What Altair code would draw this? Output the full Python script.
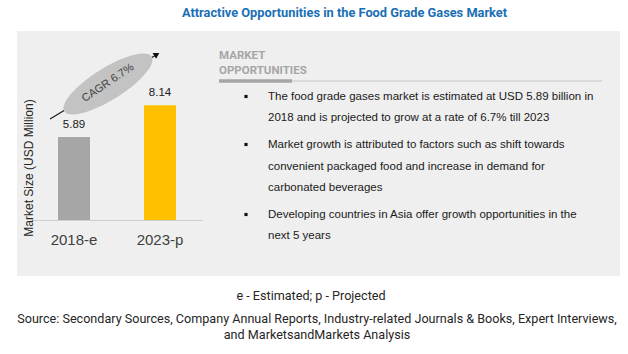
import altair as alt
import pandas as pd

# ---- data ----
categories = ["2018-e", "2023-p"]
values = [5.89, 8.14]
bar_colors = ["#a6a6a6", "#ffc000"]
cagr_label = "CAGR 6.7%"
y_title = "Market Size (USD Million)"
title_text = "Attractive Opportunities in the Food Grade Gases Market"
heading_lines = ["MARKET", "OPPORTUNITIES"]
bullets = [
    ["The food grade gases market is estimated at USD 5.89 billion in",
     "2018 and is projected to grow at a rate of 6.7% till 2023"],
    ["Market growth is attributed to factors such as shift towards",
     "convenient packaged food and increase in demand for",
     "carbonated beverages"],
    ["Developing countries in Asia offer growth opportunities in the",
     "next 5 years"],
]
footnote = "e - Estimated; p - Projected"
source_lines = [
    "Source: Secondary Sources, Company Annual Reports, Industry-related Journals & Books, Expert Interviews,",
    "and MarketsandMarkets Analysis",
]

df = pd.DataFrame({"cat": categories, "val": values, "color": bar_colors})
one = pd.DataFrame({"a": [0]})

FONT = "Liberation Sans"
COND = "Roboto"

xs = alt.Scale(domain=categories, range=[31, 203], paddingInner=0.628, paddingOuter=0.314)
ys = alt.Scale(domain=[0, 10], range=[220, 79.1])

layers = []

# background panel
layers.append(alt.Chart(one).mark_rect(color="#efefef").encode(
    x=alt.value(17), x2=alt.value(620), y=alt.value(31), y2=alt.value(276)))

# baseline
layers.append(alt.Chart(one).mark_rule(color="#d0d0d0", strokeWidth=1).encode(
    x=alt.value(33), x2=alt.value(203), y=alt.value(220.5)))

# bars
base = alt.Chart(df)
layers.append(base.mark_bar().encode(
    x=alt.X("cat:N", scale=xs, axis=None),
    y=alt.Y("val:Q", scale=ys, axis=None),
    color=alt.Color("color:N", scale=None, legend=None),
))
layers.append(base.mark_text(font=FONT, fontSize=11.5, color="#1a1a1a", baseline="bottom", dy=-7).encode(
    x=alt.X("cat:N", scale=xs, axis=None),
    y=alt.Y("val:Q", scale=ys, axis=None),
    text=alt.Text("val:Q", format=".2f"),
))
layers.append(base.mark_text(font=FONT, fontSize=15, color="#404040", baseline="middle").encode(
    x=alt.X("cat:N", scale=xs, axis=None),
    y=alt.value(240),
    text="cat:N",
))

# y title
layers.append(alt.Chart(one).mark_text(font=FONT, fontSize=12, color="#262626", angle=270,
                                       baseline="middle", text=y_title).encode(
    x=alt.value(28.5), y=alt.value(168)))

# arrow
layers.append(alt.Chart(one).mark_rule(color="#1a1a1a", strokeWidth=1.2).encode(
    x=alt.value(50), y=alt.value(119), x2=alt.value(156), y2=alt.value(55)))
k = 0.5523
r = 0.31
ell = (f"M -1 0 C -1 {-k*r} {-k} {-r} 0 {-r} C {k} {-r} 1 {-k*r} 1 0 "
       f"C 1 {k*r} {k} {r} 0 {r} C {-k} {r} -1 {k*r} -1 0 Z")
layers.append(alt.Chart(one).mark_point(shape=ell, filled=True, color="#c3c3c3", opacity=1,
                                        size=10600, angle=328, strokeWidth=0).encode(
    x=alt.value(108), y=alt.value(84)))
layers.append(alt.Chart(one).mark_point(shape="triangle", filled=True, color="#111111", opacity=1,
                                        size=45, angle=59).encode(
    x=alt.value(156), y=alt.value(55)))
layers.append(alt.Chart(one).mark_text(font=FONT, fontSize=11, color="#404040", angle=326,
                                       baseline="middle", text=cagr_label).encode(
    x=alt.value(108), y=alt.value(83)))

# right panel heading
for txt, yy in zip(heading_lines, [56, 71]):
    layers.append(alt.Chart(one).mark_text(font=COND, fontSize=11.5, fontWeight="bold", color="#a6a6a6",
                                           align="left", baseline="middle", text=txt).encode(
        x=alt.value(219), y=alt.value(yy)))
layers.append(alt.Chart(one).mark_rule(color="#dadada", strokeWidth=2).encode(
    x=alt.value(290), x2=alt.value(602), y=alt.value(81)))
layers.append(alt.Chart(one).mark_rule(color="#a6a6a6", strokeWidth=3.5).encode(
    x=alt.value(219), x2=alt.value(292), y=alt.value(81)))

# bullets
line_y = [[97, 118], [145, 167, 188], [215, 236]]
for para, ypos in zip(bullets, line_y):
    layers.append(alt.Chart(one).mark_square(color="#111111", size=10, opacity=1).encode(
        x=alt.value(246), y=alt.value(ypos[0] - 0.5)))
    for txt, yy in zip(para, ypos):
        layers.append(alt.Chart(one).mark_text(font=FONT, fontSize=11.5, color="#1a1a1a",
                                               align="left", baseline="middle", text=txt).encode(
            x=alt.value(268), y=alt.value(yy)))

# title
layers.append(alt.Chart(one).mark_text(font=COND, fontSize=12.8, fontWeight="bold", color="#1a6fb5",
                                       align="center", baseline="middle", text=title_text).encode(
    x=alt.value(344.5), y=alt.value(13)))

# footer
layers.append(alt.Chart(one).mark_text(font=COND, fontSize=12.6, color="#262626",
                                       align="center", baseline="middle", text=footnote).encode(
    x=alt.value(311), y=alt.value(296)))
for txt, yy in zip(source_lines, [319, 335]):
    layers.append(alt.Chart(one).mark_text(font=COND, fontSize=12.6, color="#262626",
                                           align="center", baseline="middle", text=txt).encode(
        x=alt.value(317), y=alt.value(yy)))

chart = alt.layer(*layers).properties(
    width=628, height=354, autosize=alt.AutoSizeParams(type="none"), padding=0,
    background="white",
).configure_view(stroke=None)

chart.save("out.html", embed_options={"renderer": "svg", "actions": False})
